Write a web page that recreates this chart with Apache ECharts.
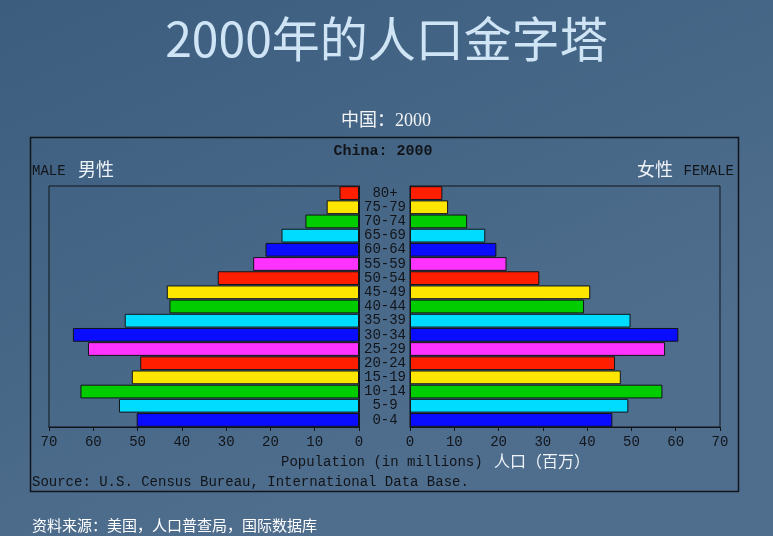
<!DOCTYPE html>
<html>
<head>
<meta charset="utf-8">
<script src="https://cdn.jsdelivr.net/npm/echarts@6/dist/echarts.min.js"></script>
<style>
html,body{margin:0;padding:0;}
#chart{width:773px;height:536px;}
</style>
</head>
<body>
<div id="chart"></div>
<script>
// Age groups, bottom to top
const ages = ['0-4','5-9','10-14','15-19','20-24','25-29','30-34','35-39','40-44','45-49','50-54','55-59','60-64','65-69','70-74','75-79','80+'];
// Population in millions
const male   = [50.2, 54.2, 62.9, 51.3, 49.4, 61.2, 64.6, 52.9, 42.8, 43.4, 31.9, 23.9, 21.1, 17.5, 12.1, 7.3, 4.4];
const female = [45.7, 49.3, 57.0, 47.6, 46.3, 57.6, 60.6, 49.8, 39.3, 40.7, 29.2, 21.8, 19.5, 17.0, 12.9, 8.6, 7.3];
const xTicks = [0, 10, 20, 30, 40, 50, 60, 70];

const palette = ['#0a0cff', '#00dcff', '#00cc00', '#ffe600', '#ff1e00', '#ff33ff'];
const mono = '"Liberation Mono", "DejaVu Sans Mono", monospace';
const cjk = '"Noto Sans CJK SC", sans-serif';
const ink = '#111418';

const chart = echarts.init(document.getElementById('chart'), null, {renderer: 'canvas'});

function xAxisCfg(idx, inverse) {
  return {
    type: 'value', gridIndex: idx, min: xTicks[0], max: xTicks[xTicks.length - 1], interval: 10,
    inverse: inverse,
    axisLine: {show: true, lineStyle: {color: ink, width: 1}},
    axisTick: {show: true, length: 4, lineStyle: {color: ink}},
    axisLabel: {color: ink, fontFamily: mono, fontSize: 14, margin: 8},
    splitLine: {show: false}
  };
}

const option = {
  backgroundColor: {
    type: 'linear', x: 0, y: 0, x2: 0.3, y2: 1,
    colorStops: [{offset: 0, color: '#3c5d7e'}, {offset: 1, color: '#4f6e8e'}]
  },
  animation: false,
  grid: [
    {left: 49, top: 186, width: 310, height: 241, show: true, borderColor: ink, borderWidth: 1, backgroundColor: 'transparent'},
    {left: 410, top: 186, width: 310, height: 241, show: true, borderColor: ink, borderWidth: 1, backgroundColor: 'transparent'}
  ],
  xAxis: [xAxisCfg(0, true), xAxisCfg(1, false)],
  yAxis: [
    {type: 'category', gridIndex: 0, data: ages, position: 'right',
     axisLine: {show: true, lineStyle: {color: ink}}, axisTick: {show: false}, axisLabel: {show: false}},
    {type: 'category', gridIndex: 1, data: ages, position: 'left',
     axisLine: {show: true, lineStyle: {color: ink}}, axisTick: {show: false},
     axisLabel: {show: true, interval: 0, align: 'center', margin: 25, color: ink, fontFamily: mono, fontSize: 14, lineHeight: 14}}
  ],
  series: [
    {type: 'bar', name: 'Male', xAxisIndex: 0, yAxisIndex: 0, data: male, barCategoryGap: '3%',
     itemStyle: {color: p => palette[p.dataIndex % palette.length], borderColor: ink, borderWidth: 1}},
    {type: 'bar', name: 'Female', xAxisIndex: 1, yAxisIndex: 1, data: female, barCategoryGap: '3%',
     itemStyle: {color: p => palette[p.dataIndex % palette.length], borderColor: ink, borderWidth: 1}}
  ],
  graphic: [
    {type: 'text', left: 'center', top: 15, z: 10,
     style: {text: '2000年的人口金字塔', font: '48px ' + cjk, fill: '#cfe5f6',
             shadowColor: 'rgba(0,0,0,0.45)', shadowBlur: 3, shadowOffsetX: 2, shadowOffsetY: 2}},
    {type: 'text', x: 386, y: 121, z: 10,
     style: {text: '中国：2000', font: '18px "Liberation Serif", ' + cjk, fill: '#f2f4f6', align: 'center', verticalAlign: 'middle'}},
    {type: 'rect', z: 5, shape: {x: 30.5, y: 137.5, width: 708, height: 354},
     style: {fill: 'transparent', stroke: ink, lineWidth: 1.5}},
    {type: 'text', x: 383, y: 151, z: 10,
     style: {text: 'China: 2000', font: 'bold 15px ' + mono, fill: ink, align: 'center', verticalAlign: 'middle'}},
    {type: 'text', x: 32, y: 171, z: 10,
     style: {text: 'MALE', font: '14px ' + mono, fill: ink, align: 'left', verticalAlign: 'middle'}},
    {type: 'text', x: 78, y: 169, z: 10,
     style: {text: '男性', font: '18px ' + cjk, fill: '#eef3f8', align: 'left', verticalAlign: 'middle'}},
    {type: 'text', x: 673, y: 169, z: 10,
     style: {text: '女性', font: '18px ' + cjk, fill: '#eef3f8', align: 'right', verticalAlign: 'middle'}},
    {type: 'text', x: 734, y: 171, z: 10,
     style: {text: 'FEMALE', font: '14px ' + mono, fill: ink, align: 'right', verticalAlign: 'middle'}},
    {type: 'text', x: 281, y: 462, z: 10,
     style: {text: 'Population (in millions)', font: '14px ' + mono, fill: ink, align: 'left', verticalAlign: 'middle'}},
    {type: 'text', x: 494, y: 461, z: 10,
     style: {text: '人口（百万）', font: '16px ' + cjk, fill: '#eef3f8', align: 'left', verticalAlign: 'middle'}},
    {type: 'text', x: 32, y: 482, z: 10,
     style: {text: 'Source: U.S. Census Bureau, International Data Base.', font: '14px ' + mono, fill: ink, align: 'left', verticalAlign: 'middle'}},
    {type: 'text', x: 32, y: 525, z: 10,
     style: {text: '资料来源：美国，人口普查局，国际数据库', font: '15px ' + cjk, fill: '#ffffff', align: 'left', verticalAlign: 'middle'}}
  ]
};
chart.setOption(option);
</script>
</body>
</html>
